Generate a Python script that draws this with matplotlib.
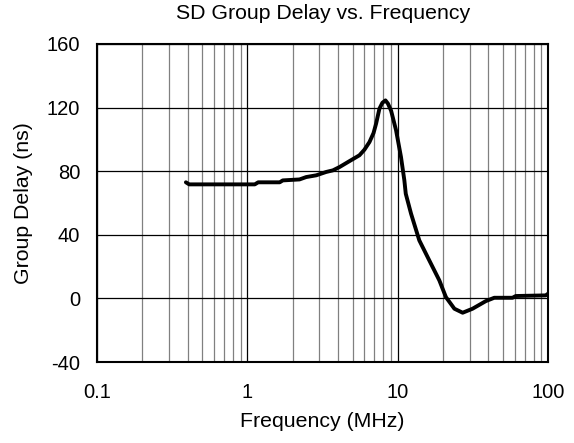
import matplotlib
matplotlib.use("Agg")
import matplotlib.pyplot as plt
from matplotlib.ticker import FixedLocator, NullFormatter

plt.rcParams['font.family'] = ['Liberation Sans', 'DejaVu Sans']
plt.rcParams['axes.unicode_minus'] = False

# SD group delay curve (frequency in MHz, delay in ns)
freq_mhz = [0.39, 0.41, 0.5, 0.7, 0.9, 1.12, 1.18, 1.64, 1.72, 2.22, 2.46, 2.87,
            3.34, 3.70, 4.1, 4.77, 5.56, 6.0, 6.48, 6.9, 7.18, 7.55, 7.9, 8.28,
            8.6, 9.03, 9.74, 10.5, 11.06, 11.3, 12.25, 13.9, 16.2, 18.9, 20.9,
            23.8, 27.0, 31.4, 38.5, 43.8, 57.9, 60.9, 96.3, 100]
delay_ns = [73, 71.7, 71.7, 71.7, 71.7, 71.7, 73, 73, 74.2, 74.8, 76.3, 77.4,
            79.5, 80.5, 82.6, 86.3, 90, 93.5, 98.3, 104, 110, 119.3, 123, 124.5,
            122.5, 118, 105.7, 89, 74.2, 65.8, 53.3, 36.5, 23.9, 11.3, 0.8,
            -6.5, -9, -6.5, -1.7, 0.4, 0.4, 1.5, 1.9, 3]

x_ticks = [0.1, 1, 10, 100]
x_labels = ['0.1', '1', '10', '100']
y_ticks = [-40, 0, 40, 80, 120, 160]

fig = plt.figure(figsize=(5.74, 4.43), dpi=100)
ax = fig.add_axes([0.169, 0.1828, 0.786, 0.718])

ax.plot(freq_mhz, delay_ns, color='black', linewidth=2.8,
        solid_capstyle='round', solid_joinstyle='round', zorder=3)

ax.set_xscale('log')
ax.set_xlim(0.1, 100)
ax.set_ylim(-40, 160)
ax.set_xticks(x_ticks)
ax.set_xticklabels(x_labels)
ax.set_yticks(y_ticks)
minor = [m * d for d in (0.1, 1, 10) for m in range(2, 10)]
ax.xaxis.set_minor_locator(FixedLocator(minor))
ax.xaxis.set_minor_formatter(NullFormatter())

ax.grid(which='major', axis='both', color='black', linewidth=0.9)
ax.grid(which='minor', axis='x', color='#808080', linewidth=0.9)
ax.tick_params(which='both', length=0, labelsize=14.5)
ax.tick_params(axis='x', pad=15)
ax.tick_params(axis='y', pad=12)
for s in ax.spines.values():
    s.set_linewidth(1.5)
    s.set_zorder(4)

ax.set_title('SD Group Delay vs. Frequency', fontsize=15.3, pad=18)
ax.set_xlabel('Frequency (MHz)', fontsize=15.3, labelpad=7)
ax.set_ylabel('Group Delay (ns)', fontsize=15.3, labelpad=10)

fig.savefig('out.png', dpi=100)
